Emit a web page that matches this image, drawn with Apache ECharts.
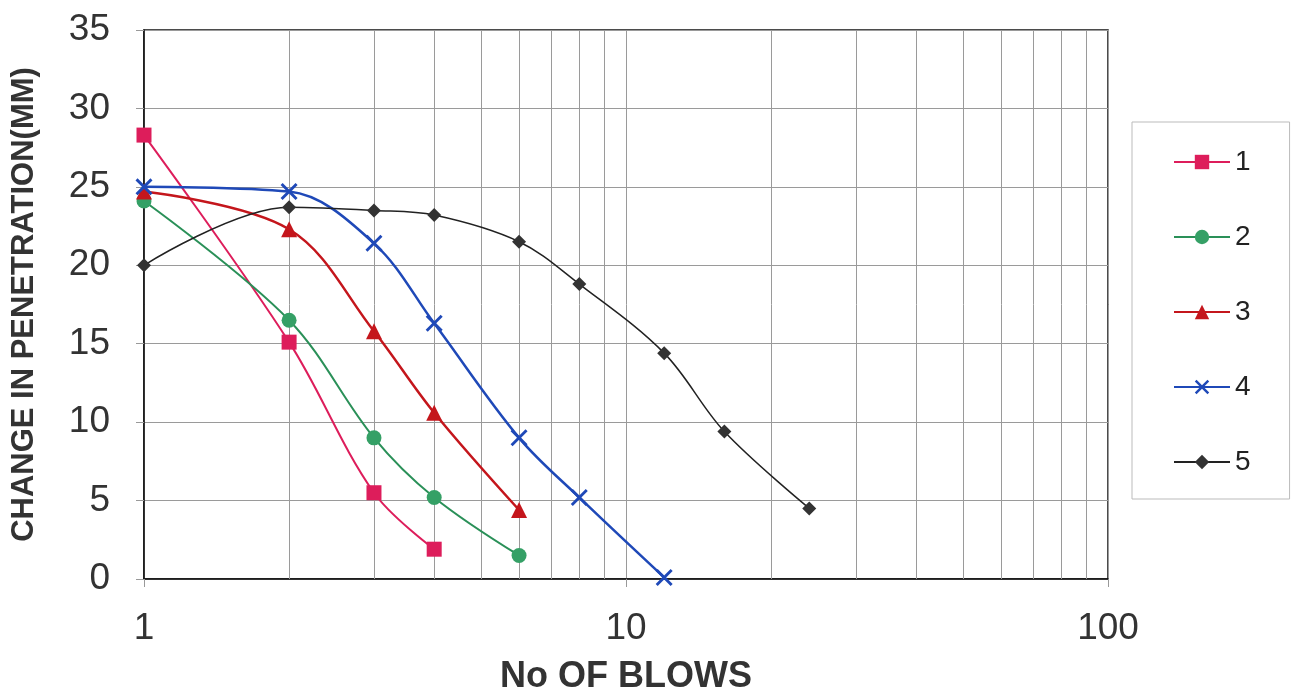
<!DOCTYPE html>
<html><head><meta charset="utf-8">
<script src="https://cdn.jsdelivr.net/npm/echarts@6/dist/echarts.min.js"></script>
<style>html,body{margin:0;padding:0;background:#fff}#c{width:1293px;height:698px}</style>
</head><body><div id="c"></div>
<script>
const seriesNames = ['1','2','3','4','5'];
const blows1 = [1,2,3,4];
const pen1 = [28.3,15.1,5.5,1.9];
const blows2 = [1,2,3,4,6];
const pen2 = [24.1,16.5,9.0,5.2,1.5];
const blows3 = [1,2,3,4,6];
const pen3 = [24.7,22.3,15.8,10.6,4.4];
const blows4 = [1,2,3,4,6,8,12];
const pen4 = [25.0,24.7,21.4,16.3,9.0,5.2,0.1];
const blows5 = [1,2,3,4,6,8,12,16,24];
const pen5 = [20.0,23.7,23.5,23.2,21.5,18.8,14.4,9.4,4.5];
const xGridValues = [2,3,4,5,6,7,8,9,20,30,40,50,60,70,80,90];

const pair = (xs, ys) => xs.map((x,i)=>[x, ys[i]]);
const xPath = 'path://M0,1.2 L1.2,0 L5,3.8 L8.8,0 L10,1.2 L6.2,5 L10,8.8 L8.8,10 L5,6.2 L1.2,10 L0,8.8 L3.8,5 Z';
const font = 'Liberation Sans, Arial, sans-serif';

const chart = echarts.init(document.getElementById('c'));
chart.setOption({
  backgroundColor:'#fff',
  animation:false,
  grid:{left:144,right:185,top:30,bottom:119,outerBoundsMode:'none',containLabel:false,
        show:true,borderColor:'#111',borderWidth:1.5,backgroundColor:'#fff'},
  legend:{
    orient:'vertical', left:1132, top:122,
    padding:[26,39,23,41], itemGap:47, itemWidth:56, itemHeight:18,
    borderColor:'#bbb', borderWidth:1,
    textStyle:{fontSize:28,lineHeight:28,color:'#222',fontFamily:font},
    data:seriesNames
  },
  xAxis:{
    type:'log', logBase:10, min:1, max:100,
    name:'No OF BLOWS', nameLocation:'middle', nameGap:80,
    nameTextStyle:{fontSize:36,fontWeight:'bold',color:'#333',fontFamily:font},
    axisLine:{lineStyle:{color:'#111',width:1.5}},
    axisTick:{show:true,length:8,lineStyle:{color:'#999'}},
    axisLabel:{fontSize:37,color:'#333',fontFamily:font,margin:31},
    splitLine:{show:true,lineStyle:{color:'#9a9a9a',width:1}}
  },
  yAxis:{
    type:'value', min:0, max:35, interval:5,
    name:'CHANGE IN PENETRATION(MM)', nameLocation:'middle', nameGap:104,
    nameTextStyle:{fontSize:31,fontWeight:'bold',color:'#333',fontFamily:font},
    axisLine:{show:true,lineStyle:{color:'#111',width:1.5}},
    axisTick:{show:true,length:8,lineStyle:{color:'#999'}},
    axisLabel:{fontSize:37,color:'#333',fontFamily:font,margin:34},
    splitLine:{show:true,lineStyle:{color:'#9a9a9a',width:1}}
  },
  series:[
    {name:seriesNames[0],type:'line',smooth:0.35,data:pair(blows1,pen1),symbol:'rect',symbolSize:15,
     lineStyle:{color:'#dd1d5b',width:2},itemStyle:{color:'#dd1d5b'},z:5,
     markLine:{silent:true,symbol:'none',label:{show:false},lineStyle:{color:'#9a9a9a',width:1,type:'solid'},
       data:xGridValues.map(v=>({xAxis:v})),z:1}},
    {name:seriesNames[1],type:'line',smooth:0.35,data:pair(blows2,pen2),symbol:'circle',symbolSize:15,
     lineStyle:{color:'#2a9058',width:2},itemStyle:{color:'#35a066'},z:5},
    {name:seriesNames[2],type:'line',smooth:0.35,data:pair(blows3,pen3),symbol:'triangle',symbolSize:16,
     lineStyle:{color:'#c4161c',width:2.5},itemStyle:{color:'#c4161c'},z:5},
    {name:seriesNames[3],type:'line',smooth:0.35,data:pair(blows4,pen4),symbol:xPath,symbolSize:17,
     lineStyle:{color:'#1f49b8',width:2.5},itemStyle:{color:'#1f49b8'},z:5},
    {name:seriesNames[4],type:'line',smooth:0.35,data:pair(blows5,pen5),symbol:'diamond',symbolSize:14,
     lineStyle:{color:'#222',width:1.5},itemStyle:{color:'#333'},z:5}
  ]
});
</script></body></html>
